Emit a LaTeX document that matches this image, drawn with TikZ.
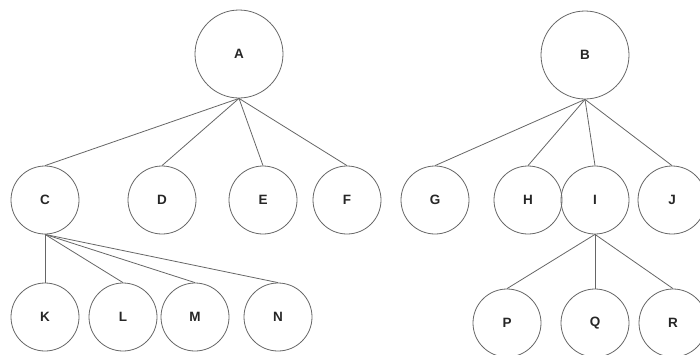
\documentclass[tikz,border=0pt]{standalone}
\usepackage{fontspec}
\setmainfont{Liberation Sans}
\begin{document}
\begin{tikzpicture}[x=1pt,y=-1pt,line width=0.8pt,draw=black!60,
  every node/.style={circle,draw=black!60,minimum size=68pt,inner sep=0pt,
    text=black!85,font=\bfseries\fontsize{13.5}{15}\selectfont},
  big/.style={minimum size=88pt}]
\useasboundingbox (0,0) rectangle (700,354);
% roots
\node[big] (A) at (239,54) {A};
\node[big] (B) at (585,55) {B};
% second row
\node (C) at (45,200)  {C};
\node (D) at (162,200) {D};
\node (E) at (263,200) {E};
\node (F) at (347,200) {F};
\node (G) at (435,200) {G};
\node (H) at (528,200) {H};
\node (I) at (595,200) {I};
\node (J) at (672,200) {J};
% third row
\node (K) at (45,317)  {K};
\node (L) at (123,317) {L};
\node (M) at (195,317) {M};
\node (N) at (278,317) {N};
\node (P) at (507,323) {P};
\node (Q) at (595,323) {Q};
\node (R) at (673,323) {R};
% edges
\foreach \c in {C,D,E,F} \draw (A.south) -- (\c.north);
\foreach \c in {G,H,I,J} \draw (B.south) -- (\c.north);
\foreach \c in {K,L,M,N} \draw (C.south) -- (\c.north);
\foreach \c in {P,Q,R} \draw (I.south) -- (\c.north);
\end{tikzpicture}
\end{document}
